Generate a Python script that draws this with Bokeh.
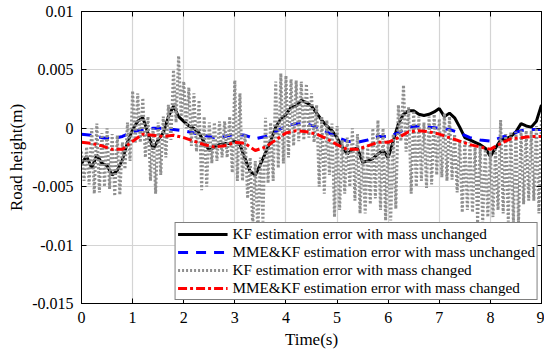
from bokeh.plotting import figure
from bokeh.models import Range1d, LinearAxis, FixedTicker, CustomJSTickFormatter
from bokeh.embed import file_html
from bokeh.resources import INLINE

# ---------------- data ----------------
t_kf = [i / 10 for i in range(91)]
kf_unchanged = [
    -0.0030, -0.0024, -0.0034, -0.0023, -0.0030, -0.0032, -0.0040, -0.0036, -0.0027, -0.0012,
    -0.0001, 0.0006, 0.0009, -0.0004, -0.0018, -0.0010, -0.0004, 0.0010, 0.0019, 0.0010,
    0.0006, 0.0002, 0.0000, -0.0004, -0.0012, -0.0019, -0.0016, -0.0014, -0.0013, -0.0013,
    -0.0011, -0.0014, -0.0026, -0.0037, -0.0040, -0.0031, -0.0021, -0.0011, 0.0001, 0.0008,
    0.0012, 0.0018, 0.0019, 0.0024, 0.0022, 0.0019, 0.0013, 0.0007, 0.0002, -0.0002,
    -0.0008, -0.0016, -0.0022, -0.0018, -0.0017, -0.0029, -0.0028, -0.0026, -0.0022, -0.0019,
    -0.0025, -0.0011, 0.0004, 0.0012, 0.0015, 0.0015, 0.0012, 0.0011, 0.0012, 0.0014,
    0.0017, 0.0010, 0.0013, 0.0009, 0.0001, -0.0008, -0.0010, -0.0012, -0.0014, -0.0017,
    -0.0024, -0.0017, -0.0010, -0.0009, -0.0007, -0.0003, 0.0004, 0.0002, 0.0001, 0.0006,
    0.0020,
]

t_mme = [i / 5 for i in range(46)]
mme_unchanged = [
    -0.0005, -0.0006, -0.0008, -0.0009, -0.0007, -0.0003, -0.0001, 0.0000, 0.0000, -0.0001,
    -0.0002, -0.0004, -0.0006, -0.0008, -0.0007, -0.0005, -0.0006, -0.0009, -0.0007, -0.0003,
    0.0002, 0.0004, 0.0004, 0.0001, -0.0003, -0.0008, -0.0011, -0.0012, -0.0010, -0.0007,
    -0.0007, -0.0004, 0.0001, 0.0002, 0.0001, 0.0000, -0.0001, -0.0004, -0.0008, -0.0010,
    -0.0011, -0.0008, -0.0005, -0.0002, -0.0001, -0.0001,
]
mme_changed = [
    -0.0012, -0.0013, -0.0015, -0.0018, -0.0018, -0.0011, -0.0005, -0.0006, -0.0007, -0.0006,
    -0.0008, -0.0011, -0.0014, -0.0016, -0.0015, -0.0012, -0.0013, -0.0019, -0.0016, -0.0010,
    -0.0004, -0.0002, -0.0003, -0.0005, -0.0009, -0.0014, -0.0018, -0.0018, -0.0015, -0.0012,
    -0.0012, -0.0008, -0.0003, -0.0002, -0.0003, -0.0005, -0.0008, -0.0011, -0.0014, -0.0016,
    -0.0018, -0.0013, -0.0009, -0.0008, -0.0007, -0.0007,
]

# KF with mass changed: oscillating trace, upper peaks (at t = 0.0, 0.1, ...)
# and lower troughs (at t = 0.05, 0.15, ...)
t_kfc_peak = [i / 10 for i in range(91)]
kf_changed_peak = [
    -0.0020, -0.0016, 0.0000, 0.0004, -0.0004, 0.0000, -0.0005, -0.0006, -0.0012, 0.0005,
    0.0032, 0.0030, 0.0026, 0.0010, 0.0000, 0.0005, 0.0010, 0.0020, 0.0050, 0.0062,
    0.0040, 0.0035, 0.0030, 0.0024, 0.0010, 0.0005, 0.0005, 0.0006, 0.0006, 0.0010,
    0.0041, 0.0030, -0.0005, -0.0025, -0.0028, -0.0025, 0.0009, 0.0005, 0.0040, 0.0047,
    0.0045, 0.0042, 0.0041, 0.0040, 0.0038, 0.0030, 0.0020, 0.0010, 0.0007, 0.0004,
    0.0002, -0.0010, -0.0008, 0.0000, -0.0005, -0.0016, -0.0015, 0.0000, 0.0007, 0.0000,
    -0.0010, -0.0005, 0.0020, 0.0037, 0.0018, 0.0015, 0.0010, 0.0005, 0.0010, 0.0012,
    0.0008, 0.0013, 0.0010, -0.0005, -0.0010, -0.0010, -0.0012, -0.0015, -0.0015, -0.0018,
    -0.0020, -0.0018, 0.0007, -0.0005, -0.0003, -0.0003, -0.0002, -0.0002, -0.0002, 0.0002,
    0.0010,
]
t_kfc_trough = [i / 10 + 0.05 for i in range(90)]
kf_changed_trough = [
    -0.0045, -0.0048, -0.0056, -0.0055, -0.0050, -0.0052, -0.0058, -0.0057, -0.0035, -0.0028,
    -0.0013, -0.0012, -0.0025, -0.0045, -0.0056, -0.0040, -0.0025, -0.0010, 0.0005, 0.0010,
    0.0000, -0.0015, -0.0020, -0.0053, -0.0050, -0.0030, -0.0028, -0.0025, -0.0025, -0.0038,
    -0.0045, -0.0045, -0.0060, -0.0085, -0.0090, -0.0080, -0.0047, -0.0045, -0.0034, -0.0030,
    -0.0025, -0.0015, -0.0011, -0.0010, -0.0008, -0.0012, -0.0050, -0.0056, -0.0040, -0.0076,
    -0.0070, -0.0056, -0.0050, -0.0062, -0.0073, -0.0073, -0.0065, -0.0060, -0.0070, -0.0079,
    -0.0079, -0.0069, -0.0011, -0.0020, -0.0056, -0.0050, -0.0045, -0.0051, -0.0048, -0.0040,
    -0.0042, -0.0045, -0.0044, -0.0055, -0.0072, -0.0070, -0.0072, -0.0081, -0.0081, -0.0076,
    -0.0076, -0.0070, -0.0073, -0.0080, -0.0081, -0.0081, -0.0065, -0.0062, -0.0062, -0.0073,
]

x_ticks = [0, 1, 2, 3, 4, 5, 6, 7, 8, 9]
y_ticks = [0.01, 0.005, 0, -0.005, -0.01, -0.015]
y_tick_labels = ["0.01", "0.005", "0", "-0.005", "-0.01", "-0.015"]

labels = [
    "KF estimation error with mass unchanged",
    "MME&KF estimation error with mass unchanged",
    "KF estimation error with mass changed",
    "MME&KF estimation error with mass changed",
]

# merge peaks and troughs into one time-ordered trace
pairs = sorted(zip(t_kfc_peak + t_kfc_trough, kf_changed_peak + kf_changed_trough))
t_kfc = [a for a, b in pairs]
kf_changed = [b for a, b in pairs]

# ---------------- figure ----------------
FONT = "Liberation Serif"
p = figure(
    frame_width=460, frame_height=292,
    x_range=Range1d(0, 9), y_range=Range1d(-0.015, 0.01),
    output_backend="svg", toolbar_location=None,
    min_border_left=81, min_border_right=3, min_border_top=11, min_border_bottom=47,
    background_fill_color="white", border_fill_color="white",
)
p.outline_line_color = "black"
p.outline_line_width = 1

p.xaxis.ticker = FixedTicker(ticks=x_ticks)
p.yaxis.ticker = FixedTicker(ticks=y_ticks)
p.yaxis.major_label_overrides = {v: s for v, s in zip(y_ticks, y_tick_labels)}
for ax in (p.xaxis[0], p.yaxis[0]):
    ax.major_tick_in = 5
    ax.major_tick_out = 0
    ax.minor_tick_line_color = None
    ax.axis_line_color = "black"
    ax.major_tick_line_color = "black"
    ax.major_label_text_font = FONT
    ax.major_label_text_font_size = "16px"
    ax.major_label_text_color = "black"
    ax.axis_label_text_font = FONT
    ax.axis_label_text_font_size = "17px"
    ax.axis_label_text_font_style = "normal"
    ax.axis_label_text_color = "black"
    ax.major_label_standoff = 8
p.xaxis.axis_label = "Time(s)"
p.yaxis.axis_label = "Road height(m)"
p.xaxis.axis_label_standoff = 4
p.yaxis.axis_label_standoff = 3

for loc, tick in (("above", x_ticks), ("right", y_ticks)):
    ax = LinearAxis(ticker=FixedTicker(ticks=tick),
                    formatter=CustomJSTickFormatter(code="return ''"))
    ax.major_tick_in = 5
    ax.major_tick_out = 0
    ax.minor_tick_line_color = None
    ax.major_label_standoff = 0
    ax.major_label_text_font_size = "1px"
    ax.axis_line_color = "black"
    p.add_layout(ax, loc)

p.axis.major_label_text_font = FONT

p.grid.grid_line_color = "#d4d4d4"
p.grid.grid_line_width = 1.2

p.line(t_kf, kf_unchanged, line_color="black", line_width=3, legend_label=labels[0])
p.line(t_mme, mme_unchanged, line_color="blue", line_width=3, line_dash="10 8",
       legend_label=labels[1])
p.line(t_kfc, kf_changed, line_color="#8f8f8f", line_width=3, line_dash="2 2",
       legend_label=labels[2])
p.line(t_mme, mme_changed, line_color="red", line_width=3, line_dash="9 3 3 3",
       legend_label=labels[3])

lg = p.legend[0]
lg.location = "bottom_right"
lg.margin = 3
lg.border_line_color = "black"
lg.border_line_width = 1
lg.background_fill_alpha = 1
lg.label_text_font = FONT
lg.label_text_font_size = "15.2px"
lg.label_text_color = "black"
lg.glyph_width = 50
lg.glyph_height = 18
lg.label_height = 18
lg.spacing = 0
lg.padding = 2
lg.label_standoff = 5

open("out.html", "w").write(file_html(p, INLINE))
